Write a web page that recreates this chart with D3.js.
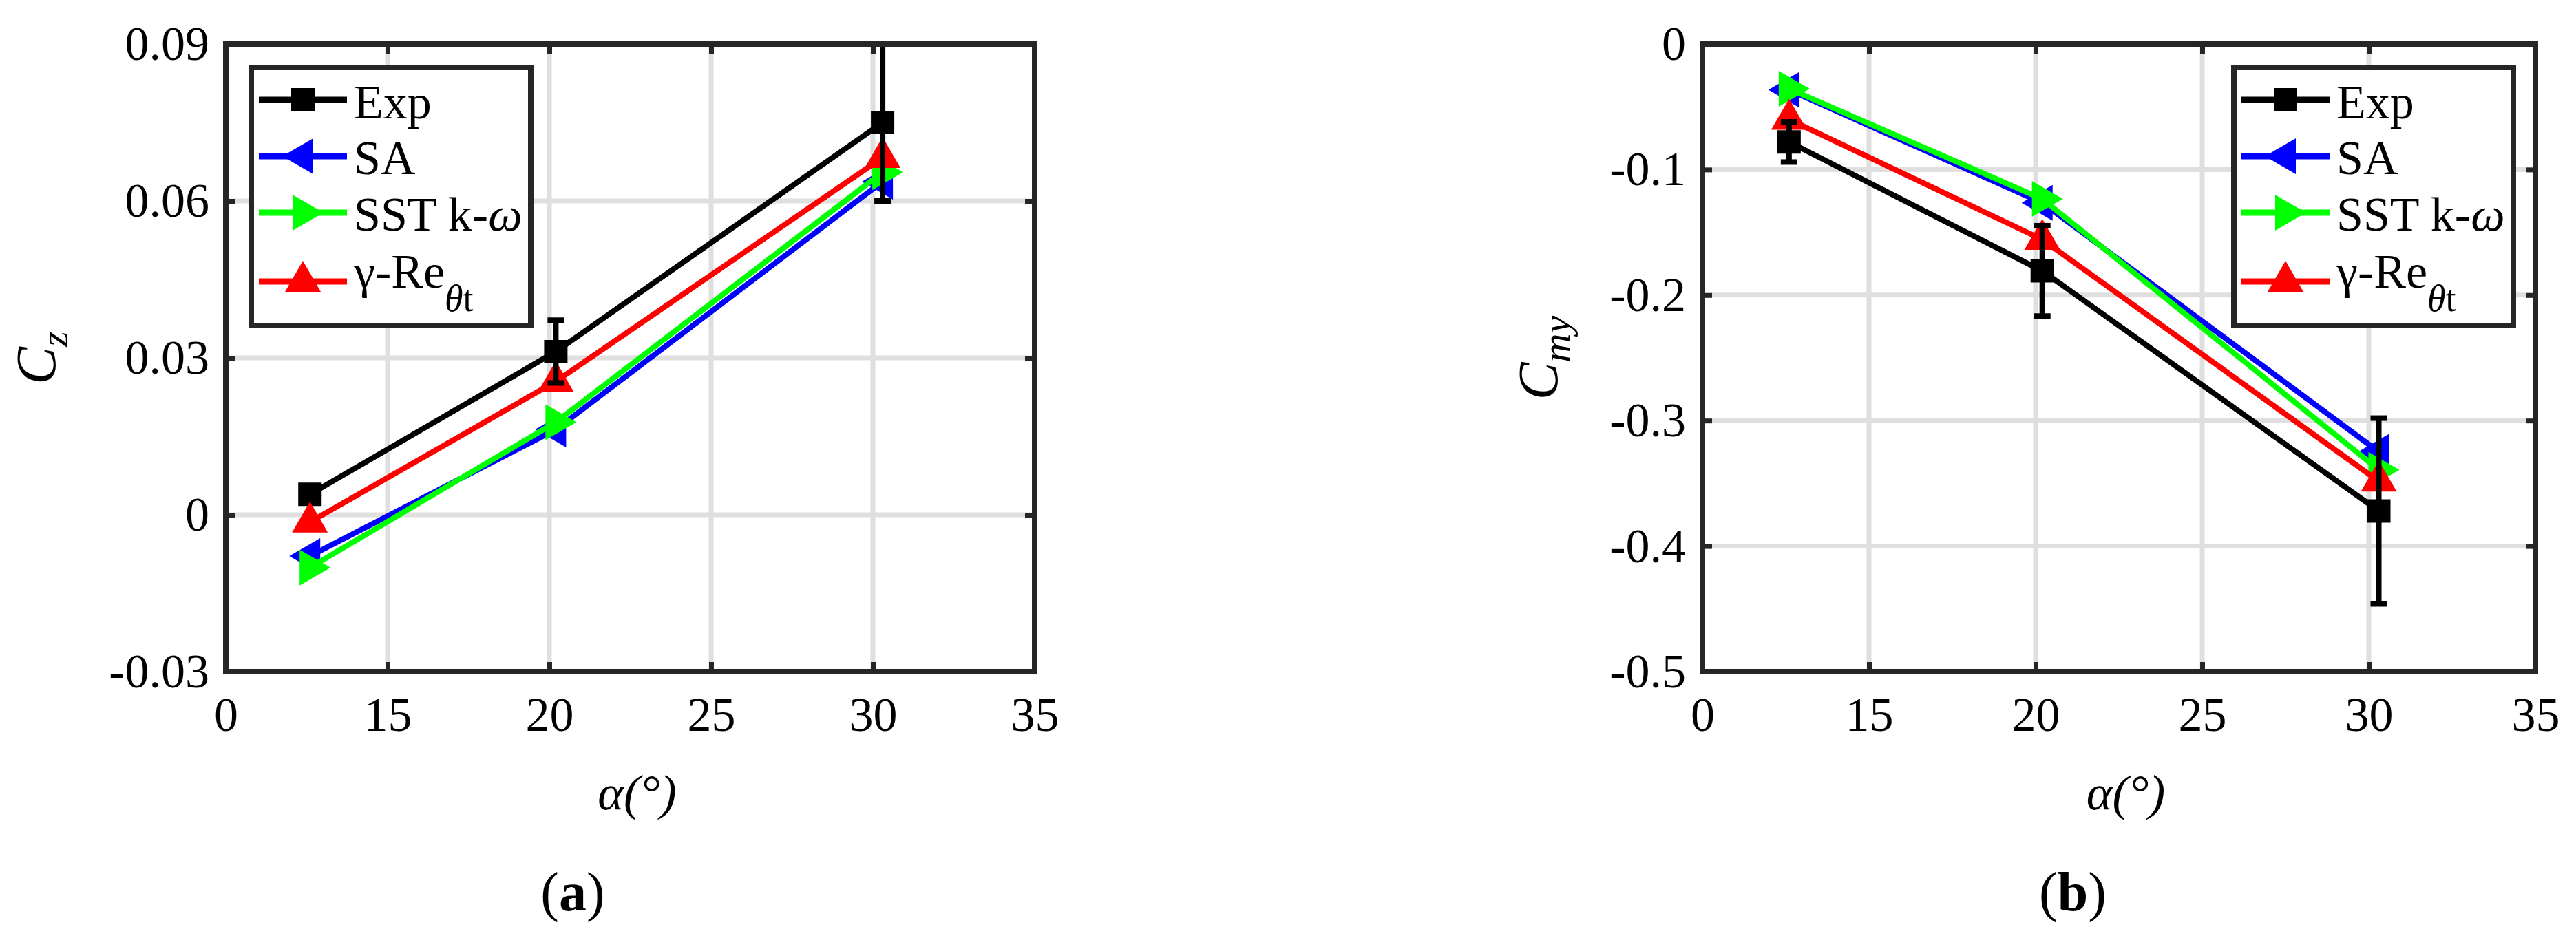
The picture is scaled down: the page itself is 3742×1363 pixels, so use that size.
<!DOCTYPE html>
<html lang="en">
<head>
	<meta charset="utf-8">
	<title>Cz and Cmy vs alpha</title>
	<script src="https://d3js.org/d3.v7.min.js"></script>
	<style>
		body { margin: 0; background: #fff; }
		text { font-family: "Liberation Serif", "Times New Roman", serif; fill: #000; }
	</style>
</head>
<body>
<script>
	// ---- data ----
	var alpha = [12.6, 20.2, 30.3];

	var czExp    = [0.0039, 0.0312, 0.0750];
	var czExpErr = [0, 0.006, 0.015];
	var czSA     = [-0.0079, 0.0163, 0.0637];
	var czSST    = [-0.0101, 0.0177, 0.0655];
	var czGRe    = [-0.0014, 0.0255, 0.0683];

	var cmyExp    = [-0.078, -0.1807, -0.372];
	var cmyExpErr = [0.016, 0.036, 0.074];
	var cmySA     = [-0.0365, -0.1265, -0.3248];
	var cmySST    = [-0.0356, -0.1234, -0.3392];
	var cmyGRe    = [-0.060, -0.1557, -0.3483];

	var xTickVals   = [10, 15, 20, 25, 30, 35];
	var xTickLabels = ["0", "15", "20", "25", "30", "35"];
	var czTicks     = [-0.03, 0, 0.03, 0.06, 0.09];
	var czLabels    = ["-0.03", "0", "0.03", "0.06", "0.09"];
	var cmyTicks    = [-0.5, -0.4, -0.3, -0.2, -0.1, 0];
	var cmyLabels   = ["-0.5", "-0.4", "-0.3", "-0.2", "-0.1", "0"];

	var seriesNames  = ["Exp", "SA", "SST", "GRe"];
	var seriesColors = ["#000000", "#0000ff", "#00ff00", "#ff0000"];
	var seriesMarks  = ["square", "left", "right", "up"];

	var width = 3742, height = 1363;
	var axisColor = "#262626";

	var svg = d3.select("body").append("svg")
		.attr("width", width)
		.attr("height", height);
	svg.append("rect").attr("width", width).attr("height", height).attr("fill", "#fff");

	// marker shapes (triangles centred on their centroid, like matlab)
	function markerPath(kind) {
		var h = 45, b = 52, s = 17;
		if (kind === "square") return "M" + (-s) + "," + (-s) + "H" + s + "V" + s + "H" + (-s) + "Z";
		if (kind === "left")  return "M" + (-2*h/3) + ",0L" + (h/3) + "," + (-b/2) + "L" + (h/3) + "," + (b/2) + "Z";
		if (kind === "right") return "M" + (2*h/3) + ",0L" + (-h/3) + "," + (-b/2) + "L" + (-h/3) + "," + (b/2) + "Z";
		return "M0," + (-2*h/3) + "L" + (b/2) + "," + (h/3) + "L" + (-b/2) + "," + (h/3) + "Z";
	}

	function drawPanel(p) {
		var x = d3.scaleLinear().domain([10, 35]).range([p.left, p.right]);
		var y = d3.scaleLinear().domain(p.yDomain).range([p.bottom, p.top]);
		var g = svg.append("g");

		// grid
		g.selectAll(".gx").data(xTickVals.slice(1, -1)).enter().append("line")
			.attr("x1", function(d){ return x(d); }).attr("x2", function(d){ return x(d); })
			.attr("y1", p.top).attr("y2", p.bottom)
			.attr("stroke", "#dfdfdf").attr("stroke-width", 7);
		g.selectAll(".gy").data(p.yTicks.slice(1, -1)).enter().append("line")
			.attr("y1", function(d){ return y(d); }).attr("y2", function(d){ return y(d); })
			.attr("x1", p.left).attr("x2", p.right)
			.attr("stroke", "#dfdfdf").attr("stroke-width", 7);

		// series
		var line = d3.line().x(function(d){ return x(d[0]); }).y(function(d){ return y(d[1]); });
		p.series.forEach(function(vals, k) {
			var pts = alpha.map(function(a, i){ return [a, vals[i]]; });
			g.append("path").datum(pts)
				.attr("d", line)
				.attr("fill", "none")
				.attr("stroke", seriesColors[k])
				.attr("stroke-width", 8)
				.attr("stroke-linejoin", "round");
			g.selectAll(".m" + k).data(pts).enter().append("path")
				.attr("d", markerPath(seriesMarks[k]))
				.attr("transform", function(d){ return "translate(" + x(d[0]) + "," + y(d[1]) + ")"; })
				.attr("fill", seriesColors[k]);
		});

		// error bars of experiment
		var eb = g.append("g").attr("stroke", "#000").attr("stroke-width", 8);
		alpha.forEach(function(a, i) {
			var e = p.err[i];
			if (!e) return;
			var cx = x(a), y0 = y(p.series[0][i] - e), y1 = y(p.series[0][i] + e);
			eb.append("line").attr("x1", cx).attr("x2", cx).attr("y1", y0).attr("y2", y1);
			eb.append("line").attr("x1", cx - 12).attr("x2", cx + 12).attr("y1", y0).attr("y2", y0);
			eb.append("line").attr("x1", cx - 12).attr("x2", cx + 12).attr("y1", y1).attr("y2", y1);
		});

		// axes
		var fmtX = function(d, i){ return xTickLabels[i]; };
		var fmtY = function(d, i){ return p.yLabels[i]; };
		var ax = [
			g.append("g").attr("transform", "translate(0," + p.bottom + ")")
				.call(d3.axisBottom(x).tickValues(xTickVals).tickFormat(fmtX).tickSizeInner(-14).tickSizeOuter(0).tickPadding(36)),
			g.append("g").attr("transform", "translate(0," + p.top + ")")
				.call(d3.axisTop(x).tickValues(xTickVals).tickFormat("").tickSizeInner(-14).tickSizeOuter(0)),
			g.append("g").attr("transform", "translate(" + p.left + ",0)")
				.call(d3.axisLeft(y).tickValues(p.yTicks).tickFormat(fmtY).tickSizeInner(-14).tickSizeOuter(0).tickPadding(24)),
			g.append("g").attr("transform", "translate(" + p.right + ",0)")
				.call(d3.axisRight(y).tickValues(p.yTicks).tickFormat("").tickSizeInner(-14).tickSizeOuter(0))
		];
		ax.forEach(function(a) {
			a.select(".domain").remove();
			a.selectAll(".tick line").attr("stroke", axisColor).attr("stroke-width", 7);
			a.selectAll(".tick text").attr("font-size", 70).attr("font-family", "Liberation Serif").attr("fill", "#262626");
		});
		g.append("rect")
			.attr("x", p.left).attr("y", p.top)
			.attr("width", p.right - p.left).attr("height", p.bottom - p.top)
			.attr("fill", "none").attr("stroke", axisColor).attr("stroke-width", 8);

		// axis labels
		g.append("text")
			.attr("x", (p.left + p.right) / 2 + 10).attr("y", 1176)
			.attr("text-anchor", "middle").attr("font-size", 72).attr("font-style", "italic")
			.text("α(°)");

		var yl = g.append("text")
			.attr("transform", "translate(" + p.yLabelX + "," + ((p.top + p.bottom) / 2) + ") rotate(-90)")
			.attr("text-anchor", "middle").attr("font-size", 82).attr("font-style", "italic");
		yl.append("tspan").text("C");
		yl.append("tspan").attr("font-size", 58).attr("dy", 18).text(p.ySub);

		var cap = g.append("text")
			.attr("x", p.capX).attr("y", 1323)
			.attr("text-anchor", "middle").attr("font-size", 80);
		cap.append("tspan").text("(");
		cap.append("tspan").attr("font-weight", "bold").text(p.cap);
		cap.append("tspan").text(")");

		// legend
		var lg = g.append("g").attr("transform", "translate(" + p.legX + ",94)");
		lg.append("rect").attr("x", 4).attr("y", 4).attr("width", 406).attr("height", 375)
			.attr("fill", "#fff").attr("stroke", axisColor).attr("stroke-width", 8);
		var rowLine = [51, 133, 215, 315];
		var rowBase = [78, 159, 241, 324];
		seriesNames.forEach(function(name, k) {
			lg.append("line").attr("x1", 15).attr("x2", 143).attr("y1", rowLine[k]).attr("y2", rowLine[k])
				.attr("stroke", seriesColors[k]).attr("stroke-width", 9);
			lg.append("path").attr("d", markerPath(seriesMarks[k]))
				.attr("transform", "translate(79," + rowLine[k] + ")")
				.attr("fill", seriesColors[k]);
			var t = lg.append("text").attr("x", 153).attr("y", rowBase[k]).attr("font-size", 70);
			if (name === "Exp") t.text("Exp");
			else if (name === "SA") t.text("SA");
			else if (name === "SST") {
				t.append("tspan").text("SST k-");
				t.append("tspan").attr("font-style", "italic").text("ω");
			} else {
				t.append("tspan").text("γ-Re");
				t.append("tspan").attr("font-size", 54).attr("dy", 34).attr("font-style", "italic").text("θ");
				t.append("tspan").attr("font-size", 54).text("t");
			}
		});
	}

	drawPanel({
		left: 328, right: 1503, top: 64, bottom: 976,
		yDomain: [-0.03, 0.09], yTicks: czTicks, yLabels: czLabels,
		series: [czExp, czSA, czSST, czGRe], err: czExpErr,
		ySub: "z", yLabelX: 80, capX: 832, cap: "a", legX: 361
	});
	drawPanel({
		left: 2473, right: 3683, top: 64, bottom: 976,
		yDomain: [-0.5, 0], yTicks: cmyTicks, yLabels: cmyLabels,
		series: [cmyExp, cmySA, cmySST, cmyGRe], err: cmyExpErr,
		ySub: "my", yLabelX: 2262, capX: 3011, cap: "b", legX: 3241
	});
</script>
</body>
</html>
